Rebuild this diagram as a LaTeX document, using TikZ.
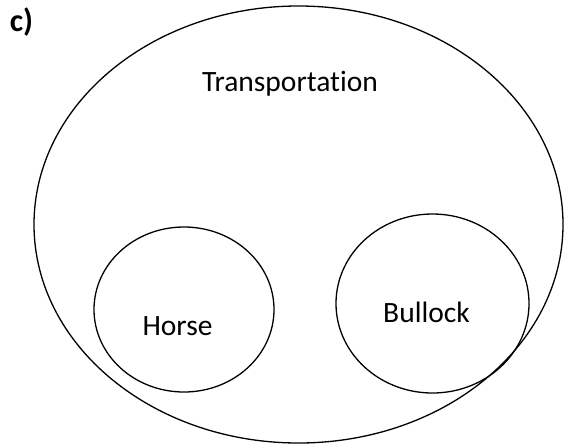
\documentclass[tikz,border=0pt]{standalone}
\usepackage{fontspec}
\setmainfont{Carlito}[Ligatures={NoCommon,NoRare}]
\usetikzlibrary{shapes.geometric}
\begin{document}
\begin{tikzpicture}[x=1pt,y=-1pt,
  setshape/.style={draw=black,line width=1.3pt,ellipse,inner sep=0pt},
  lbl/.style={font=\fontsize{29.5}{34}\selectfont,inner sep=0pt}]
\useasboundingbox (0,0) rectangle (564,445);
\node[setshape,minimum width=529pt,minimum height=437pt] (transport) at (298.5,224.5) {};
\node[setshape,minimum width=180pt,minimum height=165pt] (horsec) at (184,309.5) {};
\node[setshape,minimum width=193pt,minimum height=179pt] (bullockc) at (432.5,303.5) {};
\node[lbl] (tlabel) at (290,84) {Transportation};
\node[lbl] (hlabel) at (177.5,326) {Horse};
\node[lbl] (blabel) at (426.5,312) {Bullock};
\node[lbl,font=\bfseries\fontsize{32}{36}\selectfont] (clabel) at (21.5,22) {c)};
\end{tikzpicture}
\end{document}
